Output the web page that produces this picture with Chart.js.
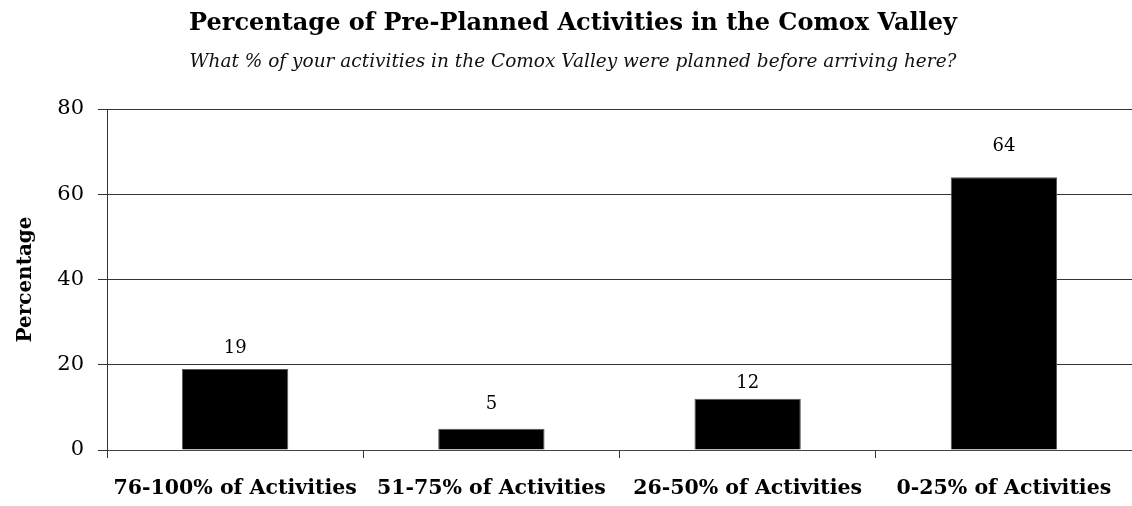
<!DOCTYPE html>
<html>
<head>
<meta charset="utf-8">
<script src="https://cdn.jsdelivr.net/npm/chart.js@4/dist/chart.umd.min.js"></script>
<style>
  html, body { margin: 0; padding: 0; background: #fff; }
  #wrap { width: 1132px; height: 506px; }
</style>
</head>
<body>
<div id="wrap"><canvas id="chart"></canvas></div>
<script>
const categories = ['76-100% of Activities', '51-75% of Activities', '26-50% of Activities', '0-25% of Activities'];
const percentages = [19, 5, 12, 64];
const yTicks = [0, 20, 40, 60, 80];

const serif = "'DejaVu Serif', 'Liberation Serif', serif";
// gap (px) between each bar top and its value label, as placed in the original
const labelGap = [21, 24, 16, 31];

// value labels above each bar
const barLabels = {
  id: 'barLabels',
  afterDatasetsDraw(chart) {
    const ctx = chart.ctx;
    const meta = chart.getDatasetMeta(0);
    ctx.save();
    ctx.font = `18px ${serif}`;
    ctx.fillStyle = '#000';
    ctx.textAlign = 'center';
    ctx.textBaseline = 'middle';
    meta.data.forEach((bar, i) => {
      ctx.fillText(percentages[i], bar.x, bar.y - labelGap[i]);
    });
    ctx.restore();
  }
};

new Chart(document.getElementById('chart'), {
  type: 'bar',
  data: {
    labels: categories,
    datasets: [{
      data: percentages,
      backgroundColor: '#000',
      borderColor: '#555',
      borderWidth: 1,
      categoryPercentage: 0.415,
      barPercentage: 1
    }]
  },
  plugins: [barLabels],
  options: {
    responsive: true,
    maintainAspectRatio: false,
    animation: false,
    layout: { padding: { left: 14, right: 0, top: 9, bottom: 6 } },
    plugins: {
      legend: { display: false },
      tooltip: { enabled: false },
      title: {
        display: true,
        text: 'Percentage of Pre-Planned Activities in the Comox Valley',
        color: '#000',
        font: { family: serif, size: 24, weight: 'bold' },
        padding: { top: 0, bottom: 13 }
      },
      subtitle: {
        display: true,
        text: 'What % of your activities in the Comox Valley were planned before arriving here?',
        color: '#111',
        font: { family: serif, size: 18.5, style: 'italic' },
        padding: { top: 0, bottom: 36 }
      }
    },
    scales: {
      x: {
        offset: true,
        afterFit(scale) { scale.height = 50; },
        grid: { offset: true, drawOnChartArea: false, drawTicks: true, tickLength: 8, color: '#333' },
        border: { display: true, color: '#444', width: 1 },
        ticks: {
          color: '#000',
          font: { family: serif, size: 20.5, weight: 'bold' },
          padding: 18,
          maxRotation: 0,
          autoSkip: false
        }
      },
      y: {
        min: 0,
        max: 80,
        afterBuildTicks(scale) { scale.ticks = yTicks.map(v => ({ value: v })); },
        afterFit(scale) { scale.width = 93; },
        title: {
          display: true,
          text: 'Percentage',
          color: '#000',
          font: { family: serif, size: 20, weight: 'bold' },
          padding: { top: 0, bottom: 6 }
        },
        grid: { color: '#333', lineWidth: 1, tickLength: 9 },
        border: { display: true, color: '#333', width: 1 },
        ticks: {
          color: '#000',
          font: { family: serif, size: 21 },
          padding: 14
        }
      }
    }
  }
});
</script>
</body>
</html>
